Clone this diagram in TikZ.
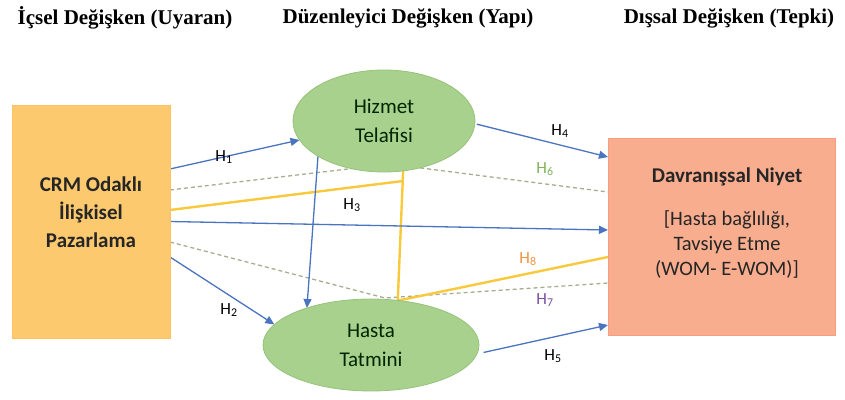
\documentclass[tikz,border=0pt]{standalone}
\usepackage{fontspec}
\setmainfont{Liberation Serif}
\newfontfamily\carl{Carlito}
\usetikzlibrary{arrows.meta,shapes.geometric}
\pgfdeclarelayer{bg}
\pgfsetlayers{bg,main}
\definecolor{blueC}{HTML}{4A73C0}
\definecolor{yelC}{HTML}{F9C93C}
\definecolor{dashC}{HTML}{A8AD8F}
\definecolor{ellF}{HTML}{A9D18E}
\definecolor{ellD}{HTML}{97C27B}
\definecolor{crmF}{HTML}{FCC96F}
\definecolor{davF}{HTML}{F8AD8F}
\definecolor{labG}{HTML}{7FB55A}
\definecolor{labO}{HTML}{EE9440}
\definecolor{labP}{HTML}{7B4FA0}
\tikzset{
  title/.style={font=\fontsize{21}{24}\selectfont\bfseries, inner sep=0pt},
  ell/.style={ellipse, fill=ellF, draw=ellD, line width=0.8pt, inner sep=0pt, outer sep=0pt,
    align=center, text=black!85!green, font=\carl\fontsize{21}{29}\selectfont},
  crmbox/.style={rectangle, fill=crmF, draw=crmF!90!orange, inner sep=0pt, outer sep=0pt,
    minimum width=158pt, minimum height=233pt},
  davbox/.style={rectangle, fill=davF, draw=davF!90!red, inner sep=0pt, outer sep=0pt,
    minimum width=227pt, minimum height=197pt},
  boxtxt/.style={align=center, inner sep=0pt, text=black!85, font=\carl\bfseries\fontsize{21}{28}\selectfont},
  davtxt/.style={align=center, inner sep=0pt, text=black!85, font=\carl\fontsize{20.5}{25}\selectfont},
  barrow/.style={draw=blueC, line width=1.3pt, -{Triangle[width=8pt,length=9pt]}},
  yline/.style={draw=yelC, line width=2.4pt},
  dline/.style={draw=dashC, line width=1.3pt, dash pattern=on 4pt off 3pt},
  hlab/.style={inner sep=0pt, font=\carl\fontsize{17}{19}\selectfont}
}
\begin{document}
\begin{tikzpicture}[x=1pt,y=-1pt]
\useasboundingbox (0,0) rectangle (845,399);
% titles
\node[title] (t1) at (125,18) {İçsel Değişken (Uyaran)};
\node[title] (t2) at (408,18) {Düzenleyici Değişken (Yapı)};
\node[title] (t3) at (729,18) {Dışsal Değişken (Tepki)};
% boxes
\node[crmbox] (crm) at (91,221.5) {};
\node[boxtxt] (crmtxt) at (91,212) {CRM Odaklı\\İlişkisel\\Pazarlama};
\node[davbox] (dav) at (721.5,236.5) {};
\node[davtxt, font=\carl\bfseries\fontsize{21}{25}\selectfont] (davt1) at (727,177) {Davranışsal Niyet};
\node[davtxt] (davt2) at (727,245) {[Hasta bağlılığı,\\Tavsiye Etme\\(WOM- E-WOM)]};
% ellipses
\node[ell, minimum width=182pt, minimum height=102pt] (hiz) at (384,121) {Hizmet\\Telafisi};
\node[ell, minimum width=216pt, minimum height=92pt] (has) at (371,345) {Hasta\\Tatmini};
% helper coordinates
\coordinate (apx6) at (390,164);
\coordinate (apx7) at (385,298);
\coordinate (ymeet) at (403,181);
\begin{pgfonlayer}{bg}
  % dashed H6, H7
  \draw[dline] ([yshift=31.5pt]crm.east) -- (apx6) -- ([yshift=44.5pt]dav.west);
  \draw[dline] ([yshift=-20.5pt]crm.east) -- (apx7) -- ([yshift=-46.5pt]dav.west);
  % yellow H8
  \draw[yline] ([yshift=11.5pt]crm.east) -- (ymeet);
  \draw[yline] (hiz.-69) -- (has.59);
  \draw[yline] ([xshift=1pt]has.59) -- ([yshift=-20.5pt]dav.west);
  % blue arrows
  \draw[barrow] ([yshift=52.5pt]crm.east) -- (hiz);
  \draw[barrow] ([yshift=-35.5pt]crm.east) -- (has.168);
  \draw[barrow] (crm.east) -- ([yshift=6.5pt]dav.west);
  \draw[barrow] ([xshift=2pt]hiz.-2) -- ([yshift=79.5pt]dav.west);
  \draw[barrow] ([xshift=6pt]has.-4) -- ([yshift=-88.5pt]dav.west);
  \draw[barrow] (hiz.208) -- (has.150);
\end{pgfonlayer}
% labels
\node[hlab] (l1) at (224,157) {H\textsubscript{1}};
\node[hlab] (l2) at (229,310) {H\textsubscript{2}};
\node[hlab] (l3) at (352,205) {H\textsubscript{3}};
\node[hlab] (l4) at (560,131) {H\textsubscript{4}};
\node[hlab] (l5) at (553,356) {H\textsubscript{5}};
\node[hlab, text=labG] (l6) at (545,169) {H\textsubscript{6}};
\node[hlab, text=labP] (l7) at (545,300) {H\textsubscript{7}};
\node[hlab, text=labO] (l8) at (528,259) {H\textsubscript{8}};
\end{tikzpicture}
\end{document}
